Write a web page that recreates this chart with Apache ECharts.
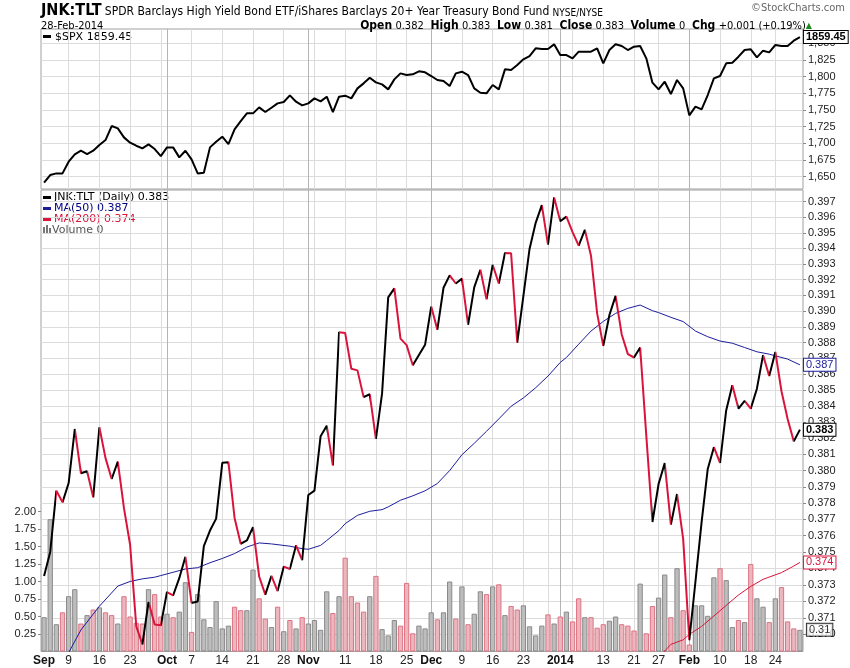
<!DOCTYPE html>
<html><head><meta charset="utf-8">
<script src="https://cdn.jsdelivr.net/npm/echarts@6/dist/echarts.min.js"></script>
<style>html,body{margin:0;padding:0;background:#fff}#c{width:850px;height:668px}</style>
</head><body><div id="c"></div>
<script>
// ---------- DATA ----------
const dates = [
'2013-09-03','2013-09-04','2013-09-05','2013-09-06','2013-09-09','2013-09-10','2013-09-11','2013-09-12','2013-09-13',
'2013-09-16','2013-09-17','2013-09-18','2013-09-19','2013-09-20','2013-09-23','2013-09-24','2013-09-25','2013-09-26','2013-09-27','2013-09-30',
'2013-10-01','2013-10-02','2013-10-03','2013-10-04','2013-10-07','2013-10-08','2013-10-09','2013-10-10','2013-10-11',
'2013-10-14','2013-10-15','2013-10-16','2013-10-17','2013-10-18','2013-10-21','2013-10-22','2013-10-23','2013-10-24','2013-10-25',
'2013-10-28','2013-10-29','2013-10-30','2013-10-31',
'2013-11-01','2013-11-04','2013-11-05','2013-11-06','2013-11-07','2013-11-08','2013-11-11','2013-11-12','2013-11-13','2013-11-14','2013-11-15',
'2013-11-18','2013-11-19','2013-11-20','2013-11-21','2013-11-22','2013-11-25','2013-11-26','2013-11-27','2013-11-29',
'2013-12-02','2013-12-03','2013-12-04','2013-12-05','2013-12-06','2013-12-09','2013-12-10','2013-12-11','2013-12-12','2013-12-13',
'2013-12-16','2013-12-17','2013-12-18','2013-12-19','2013-12-20','2013-12-23','2013-12-24','2013-12-26','2013-12-27','2013-12-30','2013-12-31',
'2014-01-02','2014-01-03','2014-01-06','2014-01-07','2014-01-08','2014-01-09','2014-01-10','2014-01-13','2014-01-14','2014-01-15','2014-01-16','2014-01-17',
'2014-01-21','2014-01-22','2014-01-23','2014-01-24','2014-01-27','2014-01-28','2014-01-29','2014-01-30','2014-01-31',
'2014-02-03','2014-02-04','2014-02-05','2014-02-06','2014-02-07','2014-02-10','2014-02-11','2014-02-12','2014-02-13','2014-02-14',
'2014-02-18','2014-02-19','2014-02-20','2014-02-21','2014-02-24','2014-02-25','2014-02-26','2014-02-27','2014-02-28'
];
const spx = [
1641,1652.5,1655,1655,1672.5,1683.5,1689,1684,1689,1697.5,1705,1726,1722.5,1709,1701,1696.5,1692.5,1698.5,1691.5,1681,
1694,1694,1679,1689,1676,1655,1656,1694,1702.5,1710,1699,1721,1733.5,1745,1745,1754,1747,1753.5,1760,1762,1772,1762.5,1757,
1760,1767.5,1763,1770,1747,1770,1771.5,1767.5,1782.5,1790,1798.5,1791.5,1788.5,1781,1796,1805,1802.5,1803.5,1808,1806.5,
1801,1795,1793.5,1786,1805,1807.5,1802.5,1782.5,1776,1775,1787.5,1781,1811,1810,1817.5,1826,1831,1842.5,1841.5,1841.5,1848.5,
1832.5,1832.5,1827.5,1837.5,1837.5,1837.5,1842.5,1820,1840,1848.5,1846,1840,1845,1846,1827.5,1791,1781,1792.5,1774,1795,1782.5,
1742,1755,1751,1772.5,1797.5,1801,1820,1821,1830,1840,1841,1829,1839,1836.5,1847.5,1846,1846,1854,1859.45
];
const ratio = [
0.37354,0.37500,0.37876,0.37804,0.37923,0.38258,0.37983,0.37996,0.37835,0.38269,0.38077,0.37948,0.38056,0.37768,0.37544,
0.37049,0.36940,0.37196,0.37060,0.37055,0.37256,0.37235,0.37340,0.37470,0.37190,0.37198,0.37536,0.37631,0.37704,0.38048,
0.38052,0.37708,0.37550,0.37570,0.37652,0.37350,0.37240,0.37354,0.37262,0.37410,0.37396,0.37540,0.37450,0.37849,0.37876,
0.38213,0.38279,0.38031,0.38865,0.38860,0.38635,0.38625,0.38457,0.38475,0.38196,0.38479,0.39087,0.39144,0.38825,0.38784,
0.38657,0.38722,0.38786,0.39028,0.38882,0.39148,0.39227,0.39175,0.39206,0.38913,0.39150,0.39263,0.39074,0.39294,0.39175,
0.39370,0.39368,0.38800,0.39096,0.39396,0.39564,0.39678,0.39424,0.39728,0.39574,0.39604,0.39504,0.39417,0.39519,0.39353,
0.38985,0.38779,0.38975,0.39096,0.38851,0.38727,0.38706,0.38769,0.38217,0.37683,0.37917,0.38046,0.37667,0.37855,0.37580,
0.36965,0.37320,0.37683,0.38010,0.38145,0.38048,0.38374,0.38531,0.38385,0.38434,0.38385,0.38510,0.38721,0.38589,0.38741,
0.38494,0.38320,0.38181,0.38254
];
const volume = [
0.49,1.89,0.39,0.56,0.79,0.89,0.40,0.52,0.60,0.63,0.56,0.52,0.40,0.79,0.50,0.41,0.40,0.89,0.82,0.50,
0.54,0.49,0.57,0.99,0.28,0.82,0.46,0.35,0.72,0.33,0.37,0.64,0.59,0.59,1.17,0.76,0.47,0.35,0.64,0.29,0.45,0.33,0.49,
0.40,0.45,0.31,0.86,0.55,0.79,1.34,0.79,0.70,0.57,0.79,1.08,0.32,0.23,0.45,0.37,0.98,0.26,0.37,0.33,
0.56,0.46,0.56,1.00,0.47,0.93,0.39,0.54,0.86,0.82,0.93,0.96,0.52,0.65,0.60,0.66,0.36,0.23,0.37,0.53,0.40,
0.50,0.57,0.43,0.76,0.49,0.49,0.34,0.39,0.44,0.50,0.39,0.37,0.30,0.97,0.26,0.65,0.77,1.10,0.49,1.19,0.59,
0.10,0.66,0.66,0.51,1.06,1.19,1.02,0.35,0.45,0.42,1.25,0.76,0.64,0.42,0.76,0.92,0.43,0.33,0.31
];
const ma50Idx = [4,6,9,12,14,16,18,19,21,23,25,27,29,31,33,35,37,40,42,43,45,46,48,49,51,53,55,56,58,60,62,64,66,68,70,72,74,76,78,80,82,84,85,87,89,91,93,95,97,99,100,102,104,106,108,110,112,114,116,118,121,123];
const ma50Val = [0.3689,0.37027,0.37170,0.37292,0.37320,0.37336,0.37346,0.37356,0.37376,0.37396,0.37404,0.37434,0.37460,0.37490,0.37530,0.37555,0.37549,0.37535,0.37520,0.37516,0.37540,0.37570,0.37631,0.37673,0.37724,0.37749,0.37759,0.37776,0.37817,0.37844,0.37875,0.37920,0.38000,0.38098,0.38169,0.38244,0.38321,0.38400,0.38452,0.38516,0.38589,0.38675,0.38706,0.38790,0.38873,0.38934,0.38985,0.39017,0.39038,0.39002,0.38990,0.38960,0.38933,0.38873,0.38837,0.38810,0.38796,0.38769,0.38742,0.38727,0.38696,0.38660];
const ma200Idx = [100,102,104,105,107,109,111,113,115,117,120,122,123];
const ma200Val = [0.3686,0.3694,0.36967,0.37000,0.37048,0.37111,0.37175,0.37238,0.37290,0.37333,0.37374,0.37414,0.37436];
const tickIdx  = [0,4,9,14,20,24,29,34,39,43,49,54,59,63,68,73,78,84,91,96,100,105,110,115,119];
const tickText = ['Sep','9','16','23','Oct','7','14','21','28','Nov','11','18','25','Dec','9','16','23','2014','13','21','27','Feb','10','18','24'];
const spxTicks = [1650,1675,1700,1725,1750,1775,1800,1825,1850];
const ratioTicks = [0.370,0.371,0.372,0.373,0.374,0.375,0.376,0.377,0.378,0.379,0.380,0.381,0.382,0.383,0.384,0.385,0.386,0.387,0.388,0.389,0.390,0.391,0.392,0.393,0.394,0.395,0.396,0.397];
const volTicks = [0.25,0.5,0.75,1,1.25,1.5,1.75,2];

// ---------- BUILD ----------
const RED = '#d9143a', NAVY = '#1c1c9c', GRID = '#dcdcdc', MONTH = '#b4b4b4';
const NARROW = "'Liberation Sans Narrow','DejaVu Sans Condensed','Arial Narrow',sans-serif";
const SANS = "'DejaVu Sans',Verdana,sans-serif";
const ARIAL = "'Liberation Sans',Arial,sans-serif";
const N = dates.length;
const wd = dates.map(d => new Date(d + 'T00:00:00Z').getUTCDay());
const weekSet = new Set(), monthSet = new Set();
for (let i = 1; i < N; i++) {
  if (wd[i] < wd[i - 1]) weekSet.add(i);
  if (dates[i].slice(5, 7) !== dates[i - 1].slice(5, 7)) monthSet.add(i);
}
const tickMap = {}; tickIdx.forEach((k, j) => tickMap[k] = tickText[j]);
const ln = Math.log;
const up = i => i === 0 || ratio[i] >= ratio[i - 1];
const pieces = [];
for (let i = 0; i < N - 1; i++) {
  const p = { gte: i, color: ratio[i + 1] >= ratio[i] ? '#000' : RED };
  if (i === N - 2) p.lte = i + 1; else p.lt = i + 1;
  pieces.push(p);
}
const L = 41, R = 47;
const boxLabel = (text, color, bold) => ({
  show: true, formatter: text, color: color, fontFamily: ARIAL, fontSize: 11,
  fontWeight: bold ? 'bold' : 'normal', backgroundColor: '#fff', borderColor: color,
  borderWidth: 1, padding: [1, 2, 0, 2], distance: 4
});
const catAxis = (grid, setName, color, labels) => ({
  type: 'category', gridIndex: grid, data: dates, boundaryGap: true,
  axisLine: { show: false }, axisTick: { show: false },
  axisLabel: labels ? {
    show: true, interval: (i) => tickMap[i] !== undefined, margin: 3,
    formatter: (v, i) => { const t = tickMap[i]; return /^\d+$/.test(t) && t !== '2014' ? '{n|' + t + '}' : '{m|' + t + '}'; },
    rich: { n: { fontFamily: ARIAL, fontSize: 12, color: '#222' }, m: { fontFamily: ARIAL, fontSize: 12, fontWeight: 'bold', color: '#111' } }
  } : { show: false },
  splitLine: { show: true, alignWithLabel: true, interval: (i) => setName.has(i), lineStyle: { color: color, width: 1 } }
});

const option = {
  animation: false,
  backgroundColor: '#fff',
  grid: [
    { left: L, right: R, top: 29, height: 160, show: true, borderColor: '#a0a0a0', borderWidth: 1 },
    { left: L, right: R, top: 190, height: 461.5, show: true, borderColor: '#a0a0a0', borderWidth: 1 },
    { left: L, right: R, top: 511.5, height: 140, show: false }
  ],
  xAxis: [
    catAxis(0, weekSet, GRID, false),
    catAxis(0, monthSet, MONTH, false),
    catAxis(1, weekSet, GRID, true),
    catAxis(1, monthSet, MONTH, false),
    { type: 'category', gridIndex: 2, data: dates, boundaryGap: true, show: false }
  ],
  yAxis: [
    { type: 'value', gridIndex: 0, position: 'right', min: 1631.6, max: 1871.5,
      axisLine: { show: false },
      axisTick: { show: true, length: 3, customValues: spxTicks, lineStyle: { color: '#888' } },
      axisLabel: { customValues: spxTicks, margin: 5, fontFamily: ARIAL, fontSize: 11, color: '#222' },
      splitLine: { show: true, lineStyle: { color: GRID } } },
    { type: 'value', gridIndex: 1, position: 'right', min: ln(0.36897), max: ln(0.39776),
      axisLine: { show: false },
      axisTick: { show: true, length: 3, customValues: ratioTicks.map(ln), lineStyle: { color: '#888' } },
      axisLabel: { customValues: ratioTicks.map(ln), margin: 5, fontFamily: ARIAL, fontSize: 11, color: '#222',
        formatter: v => Math.exp(v).toFixed(3) },
      splitLine: { show: true, lineStyle: { color: GRID } } },
    { type: 'value', gridIndex: 2, position: 'left', min: 0, max: 2,
      axisLine: { show: false },
      axisTick: { show: true, length: 3, customValues: volTicks, lineStyle: { color: '#888' } },
      axisLabel: { customValues: volTicks, margin: 5, fontFamily: ARIAL, fontSize: 11, color: '#222', formatter: v => v.toFixed(2) },
      splitLine: { show: false } }
  ],
  visualMap: { type: 'piecewise', show: false, seriesIndex: 2, dimension: 0, pieces: pieces, outOfRange: { color: '#000' } },
  series: [
    { type: 'line', name: '$SPX', xAxisIndex: 0, yAxisIndex: 0, data: spx, symbol: 'none',
      lineStyle: { color: '#000', width: 2 }, z: 5,
      endLabel: boxLabel(spx[N - 1].toFixed(2), '#000', true) },
    { type: 'bar', name: 'Volume', xAxisIndex: 4, yAxisIndex: 2, barWidth: '86%', z: 2,
      data: volume.map((v, i) => ({ value: v, itemStyle: up(i)
        ? { color: '#bdbdbd', borderColor: '#8a8a8a', borderWidth: 1 }
        : { color: '#e9b7bd', borderColor: '#de7383', borderWidth: 1 } })) },
    { type: 'line', name: 'JNK:TLT', xAxisIndex: 2, yAxisIndex: 1, data: ratio.map(ln), symbol: 'none',
      lineStyle: { width: 2 }, z: 6,
      endLabel: boxLabel(ratio[N - 1].toFixed(3), '#000', true) },
    { type: 'line', name: 'MA(50)', xAxisIndex: 2, yAxisIndex: 1, symbol: 'none', z: 4,
      data: ma50Idx.map((x, k) => [x, ln(ma50Val[k])]),
      lineStyle: { color: NAVY, width: 1 },
      endLabel: boxLabel(ma50Val[ma50Val.length - 1].toFixed(3), NAVY, false) },
    { type: 'line', name: 'MA(200)', xAxisIndex: 2, yAxisIndex: 1, symbol: 'none', z: 4,
      data: ma200Idx.map((x, k) => [x, ln(ma200Val[k])]),
      lineStyle: { color: RED, width: 1 },
      endLabel: boxLabel(ma200Val[ma200Val.length - 1].toFixed(3), RED, false) },
    { type: 'scatter', name: 'VolLast', xAxisIndex: 4, yAxisIndex: 2, symbolSize: 0, z: 7, silent: true,
      data: [[N - 1, volume[N - 1]]],
      label: Object.assign(boxLabel(volume[N - 1].toFixed(2), '#000', false), { position: 'right', distance: 7 }) }
  ],
  graphic: [
    { type: 'text', x: 41, y: 19, style: { text: '{a|JNK:TLT} {b|SPDR Barclays High Yield Bond ETF/iShares Barclays 20+ Year Treasury Bond Fund} {c|NYSE/NYSE}',
      verticalAlign: 'bottom', rich: {
        a: { fontFamily: NARROW, fontSize: 16, fontWeight: 'bold', fill: '#000', verticalAlign: 'bottom' },
        b: { fontFamily: NARROW, fontSize: 12, fill: '#000', verticalAlign: 'bottom', padding: [0, 0, 1, 0] },
        c: { fontFamily: NARROW, fontSize: 10, fill: '#000', verticalAlign: 'bottom', padding: [0, 0, 1, 0] } } } },
    { type: 'text', x: 845, y: 8, style: { text: '©StockCharts.com', align: 'right', verticalAlign: 'middle',
      fontFamily: NARROW, fontSize: 11, fill: '#666' } },
    { type: 'text', x: 41, y: 26, style: { text: '28-Feb-2014', verticalAlign: 'middle', fontFamily: NARROW, fontSize: 11, fill: '#000' } },
    { type: 'text', x: 812, y: 26, style: {
      text: '{b|Open} {v|0.382}  {b|High} {v|0.383}  {b|Low} {v|0.381}  {b|Close} {v|0.383}  {b|Volume} {v|0}  {b|Chg} {v|+0.001 (+0.19%)}{g|▲}',
      align: 'right', verticalAlign: 'middle', rich: {
        b: { fontFamily: NARROW, fontSize: 12, fontWeight: 'bold', fill: '#000' },
        v: { fontFamily: NARROW, fontSize: 11, fill: '#000' },
        g: { fontFamily: SANS, fontSize: 8, fill: '#1a8a1a' } } } },
    // legends
    { type: 'rect', shape: { x: 43, y: 35, width: 8, height: 3 }, style: { fill: '#000' } },
    { type: 'text', x: 55, y: 37, style: { text: '$SPX 1859.45', verticalAlign: 'middle', fontFamily: SANS, fontSize: 11, fill: '#000' } },
    { type: 'rect', shape: { x: 43, y: 196, width: 8, height: 3 }, style: { fill: '#000' } },
    { type: 'text', x: 54, y: 197.5, style: { text: 'JNK:TLT (Daily) 0.383', verticalAlign: 'middle', fontFamily: SANS, fontSize: 11, fill: '#000' } },
    { type: 'rect', shape: { x: 43, y: 207, width: 8, height: 3 }, style: { fill: NAVY } },
    { type: 'text', x: 54, y: 208.5, style: { text: 'MA(50) 0.387', verticalAlign: 'middle', fontFamily: SANS, fontSize: 11, fill: '#000080' } },
    { type: 'rect', shape: { x: 43, y: 218, width: 8, height: 3 }, style: { fill: RED } },
    { type: 'text', x: 54, y: 219.5, style: { text: 'MA(200) 0.374', verticalAlign: 'middle', fontFamily: SANS, fontSize: 11, fill: RED } },
    { type: 'rect', shape: { x: 43, y: 227, width: 2, height: 7 }, style: { fill: '#777' } },
    { type: 'rect', shape: { x: 46, y: 225, width: 2, height: 9 }, style: { fill: '#777' } },
    { type: 'rect', shape: { x: 49, y: 228, width: 2, height: 6 }, style: { fill: '#777' } },
    { type: 'text', x: 52, y: 230, style: { text: 'Volume 0', verticalAlign: 'middle', fontFamily: SANS, fontSize: 11, fill: '#555' } }
  ]
};
const chart = echarts.init(document.getElementById('c'));
chart.setOption(option);
</script></body></html>
